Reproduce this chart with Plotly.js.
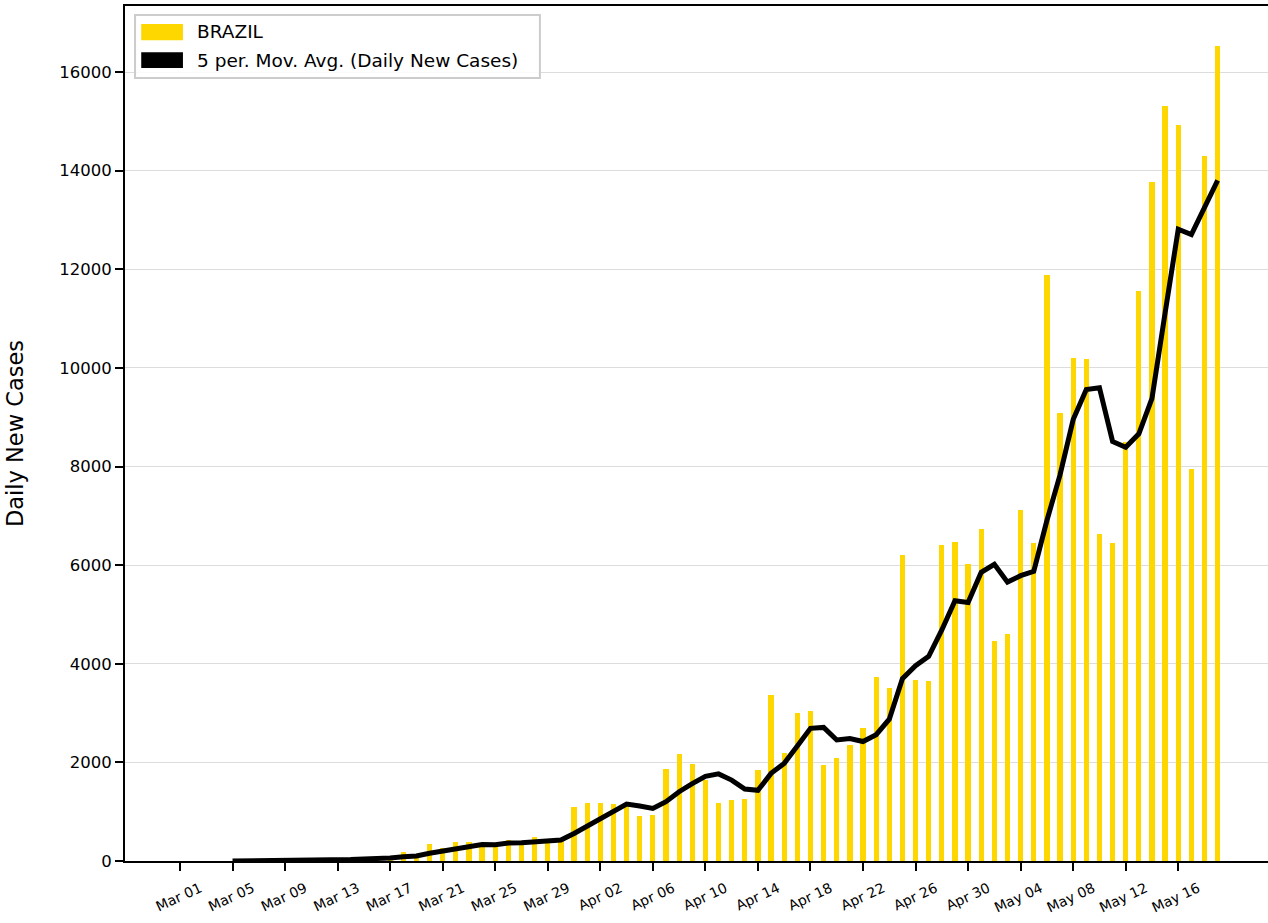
<!DOCTYPE html>
<html>
<head>
<meta charset="utf-8">
<script src="https://cdn.plot.ly/plotly-3.0.1.min.js"></script>
<style>
html,body{margin:0;padding:0;background:#fff;overflow:hidden;}
#chart{width:1268px;height:923px;}
</style>
</head>
<body>
<div id="chart"></div>
<script>
const dates = [
 "2020-03-01","2020-03-02","2020-03-03","2020-03-04","2020-03-05","2020-03-06","2020-03-07","2020-03-08","2020-03-09","2020-03-10",
 "2020-03-11","2020-03-12","2020-03-13","2020-03-14","2020-03-15","2020-03-16","2020-03-17","2020-03-18","2020-03-19","2020-03-20",
 "2020-03-21","2020-03-22","2020-03-23","2020-03-24","2020-03-25","2020-03-26","2020-03-27","2020-03-28","2020-03-29","2020-03-30",
 "2020-03-31","2020-04-01","2020-04-02","2020-04-03","2020-04-04","2020-04-05","2020-04-06","2020-04-07","2020-04-08","2020-04-09",
 "2020-04-10","2020-04-11","2020-04-12","2020-04-13","2020-04-14","2020-04-15","2020-04-16","2020-04-17","2020-04-18","2020-04-19",
 "2020-04-20","2020-04-21","2020-04-22","2020-04-23","2020-04-24","2020-04-25","2020-04-26","2020-04-27","2020-04-28","2020-04-29",
 "2020-04-30","2020-05-01","2020-05-02","2020-05-03","2020-05-04","2020-05-05","2020-05-06","2020-05-07","2020-05-08","2020-05-09",
 "2020-05-10","2020-05-11","2020-05-12","2020-05-13","2020-05-14","2020-05-15","2020-05-16","2020-05-17","2020-05-18","2020-05-19"
];
const dailyNewCases = [
 0,0,0,1,2,6,6,5,6,9,
 18,25,50,44,80,35,90,189,120,345,
 260,379,385,300,330,426,400,493,380,420,
 1101,1183,1183,1156,1150,913,933,1866,2163,1974,
 1650,1183,1237,1250,1846,3367,2200,2995,3042,1941,
 2096,2346,2691,3738,3502,6206,3671,3644,6409,6470,
 6023,6733,4455,4598,7125,6457,11888,9084,10206,10174,
 6641,6441,8500,11565,13761,15315,14924,7956,14304,16522
];
// 5-period moving average, Mar 05 .. May 19
const maDates = dates.slice(4);
const movingAvg = [
 1,2,3,4,5,6,9,13,22,29,
 43,47,60,88,103,156,201,259,298,334,
 331,364,368,390,406,424,559,715,853,1009,
 1155,1117,1067,1204,1405,1570,1717,1767,1641,1459,
 1433,1777,1980,2332,2690,2709,2455,2484,2423,2562,
 2875,3697,3962,4152,4686,5280,5243,5856,6018,5656,
 5787,5874,6905,7830,8952,9562,9599,8509,8392,8664,
 9382,11116,12813,12704,13252,13804
];
const tickDates = ["2020-03-01","2020-03-05","2020-03-09","2020-03-13","2020-03-17","2020-03-21","2020-03-25","2020-03-29",
 "2020-04-02","2020-04-06","2020-04-10","2020-04-14","2020-04-18","2020-04-22","2020-04-26","2020-04-30",
 "2020-05-04","2020-05-08","2020-05-12","2020-05-16"];
const tickLabels = ["Mar 01","Mar 05","Mar 09","Mar 13","Mar 17","Mar 21","Mar 25","Mar 29",
 "Apr 02","Apr 06","Apr 10","Apr 14","Apr 18","Apr 22","Apr 26","Apr 30",
 "May 04","May 08","May 12","May 16"];
const yTicks = [0,2000,4000,6000,8000,10000,12000,14000,16000];
const seriesNames = ["BRAZIL", "5 per. Mov. Avg. (Daily New Cases)"];
const seriesColors = ["#FFD700", "#000000"];

const traces = [
 {
  type: "bar", name: seriesNames[0], x: dates, y: dailyNewCases,
  width: 0.4*86400000,
  marker: {color: seriesColors[0], line: {width: 0}},
  showlegend: false
 },
 {
  type: "scatter", mode: "lines", name: seriesNames[1],
  x: maDates, y: movingAvg,
  line: {color: seriesColors[1], width: 5, join: "miter"},
  showlegend: false
 }
];

const FONT = "DejaVu Sans, sans-serif";
// legend drawn as a framed box with rectangular swatches (paper coordinates)
const legendShapes = [
 {type: "rect", xref: "paper", yref: "paper", x0: 0.0088, x1: 0.363, y0: 0.9158, y1: 0.9895,
  line: {color: "#cccccc", width: 2}, fillcolor: "rgba(255,255,255,0.85)", layer: "above"},
 {type: "rect", xref: "paper", yref: "paper", x0: 0.0142, x1: 0.0507, y0: 0.960, y1: 0.979,
  line: {width: 0}, fillcolor: seriesColors[0], layer: "above"},
 {type: "rect", xref: "paper", yref: "paper", x0: 0.0142, x1: 0.0507, y0: 0.9275, y1: 0.946,
  line: {width: 0}, fillcolor: seriesColors[1], layer: "above"}
];
const legendTexts = [
 {xref: "paper", yref: "paper", x: 0.0615, y: 0.9696, xanchor: "left", yanchor: "middle",
  text: seriesNames[0], showarrow: false, font: {size: 18.5, family: FONT, color: "#000"}},
 {xref: "paper", yref: "paper", x: 0.0615, y: 0.9368, xanchor: "left", yanchor: "middle",
  text: seriesNames[1], showarrow: false, font: {size: 18.5, family: FONT, color: "#000"}}
];

const layout = {
  width: 1268, height: 923,
  margin: {l: 125, r: 0, t: 6, b: 62, pad: 0},
  paper_bgcolor: "#ffffff", plot_bgcolor: "#ffffff",
  font: {family: FONT, color: "#000", size: 14},
  showlegend: false,
  bargap: 0,
  shapes: legendShapes,
  annotations: legendTexts,
  xaxis: {
    type: "date",
    range: ["2020-02-25 19:30", "2020-05-22 20:00"],
    tickmode: "array", tickvals: tickDates, ticktext: tickLabels,
    tickangle: -25,
    ticklabelshift: 20, ticklabelstandoff: 4,
    tickfont: {size: 14, family: FONT, color: "#000"},
    ticks: "outside", ticklen: 8, tickwidth: 2, tickcolor: "#000",
    showline: true, linecolor: "#000", linewidth: 2, mirror: true,
    showgrid: false, zeroline: false, fixedrange: true
  },
  yaxis: {
    range: [0, 17340],
    tickmode: "array", tickvals: yTicks, ticktext: yTicks.map(String),
    tickfont: {size: 16.5, family: FONT, color: "#000"},
    ticks: "outside", ticklen: 8, tickwidth: 2, tickcolor: "#000",
    showline: true, linecolor: "#000", linewidth: 2, mirror: false,
    showgrid: true, gridcolor: "#dddddd", gridwidth: 1,
    zeroline: false,
    title: {text: "Daily New Cases", font: {size: 22.5, family: FONT, color: "#000"}, standoff: 29}
  }
};

Plotly.newPlot("chart", traces, layout, {displayModeBar: false, staticPlot: true});
</script>
</body>
</html>
